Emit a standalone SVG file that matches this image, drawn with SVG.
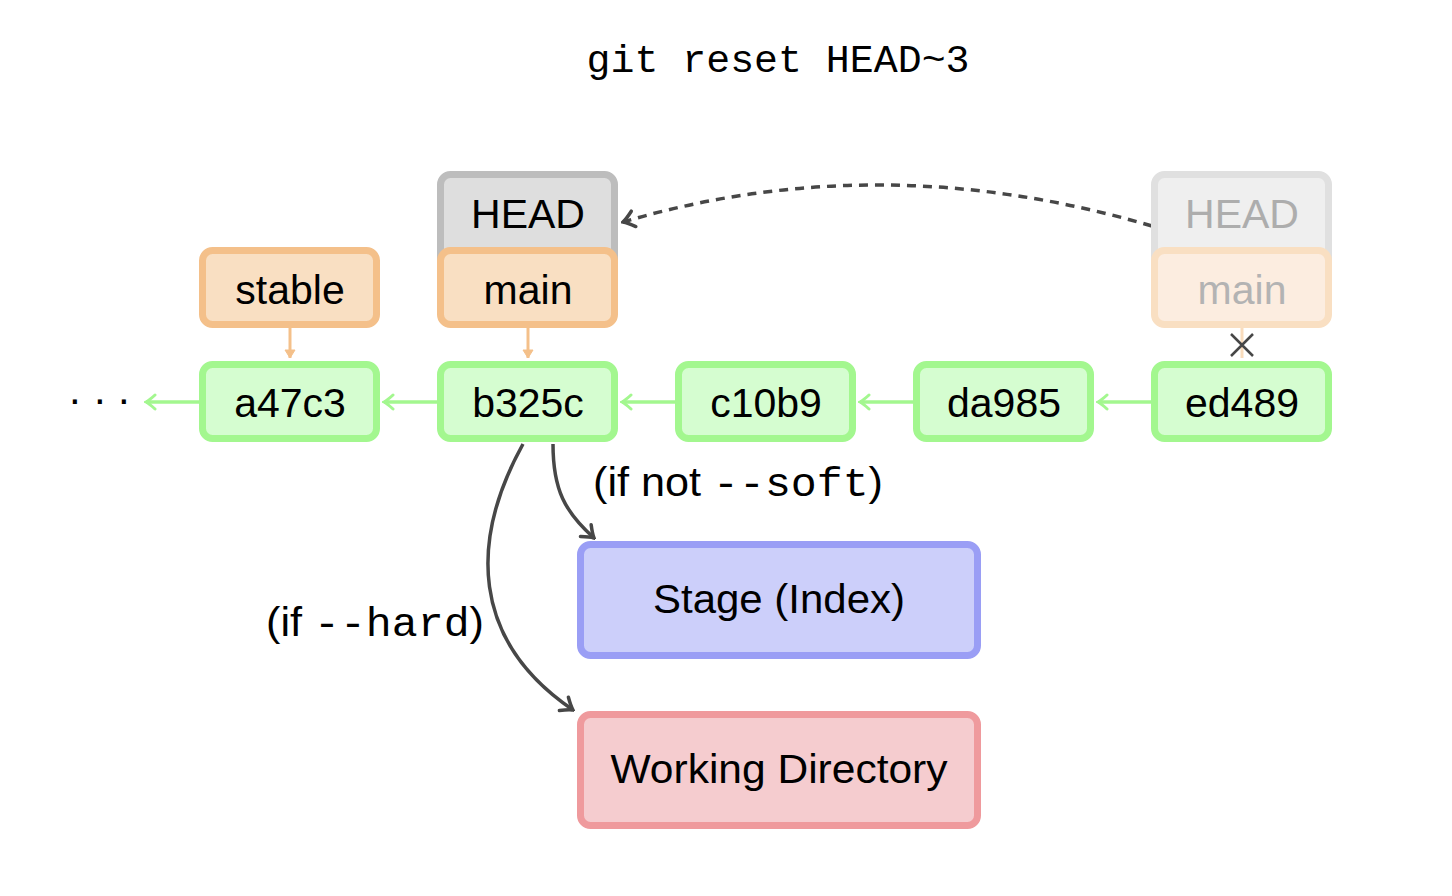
<svg xmlns="http://www.w3.org/2000/svg" width="1452" height="896" viewBox="0 0 1452 896">
<style>
.sans{font-family:"Liberation Sans",Arial,sans-serif;font-size:41px;fill:#000;text-anchor:middle}
.mono{font-family:"Liberation Mono","Courier New",monospace}
.commit{fill:#d5fdd0;stroke:#a3f78f;stroke-width:7}
.branch{fill:#f9dfc2;stroke:#f4c08a;stroke-width:7}
.head{fill:#dedede;stroke:#bdbdbd;stroke-width:7}
.ghead{fill:#efefef;stroke:#e0e0e0;stroke-width:7}
.gbranch{fill:#fcede0;stroke:#f9dfc2;stroke-width:7}
.garrow{stroke:#a3f78f;stroke-width:3.5;fill:none}
.oarrow{stroke:#f4c08a;stroke-width:3;fill:none}
.dark{stroke:#474747;stroke-width:3.5;fill:none}
</style>
<defs>
<marker id="ag" markerUnits="userSpaceOnUse" viewBox="-12 -10 14 20" markerWidth="14" markerHeight="20" refX="0" refY="0" orient="auto">
<path d="M-9,-7 Q-3,-1.5 0,0 Q-3,1.5 -9,7" fill="none" stroke="#a3f78f" stroke-width="3" stroke-linecap="round"/>
</marker>
<marker id="ao" markerUnits="userSpaceOnUse" viewBox="-10 -8 12 16" markerWidth="12" markerHeight="16" refX="0" refY="0" orient="auto">
<path d="M-8,-5 L0,0 L-8,5 Z" fill="#f4c08a" stroke="#f4c08a" stroke-width="1"/>
</marker>
<marker id="ad" markerUnits="userSpaceOnUse" viewBox="-14 -11 16 22" markerWidth="16" markerHeight="22" refX="0" refY="0" orient="auto">
<path d="M-11,-8 Q-4,-2 0,0 Q-4,2 -11,8" fill="none" stroke="#474747" stroke-width="3.5" stroke-linecap="round"/>
</marker>
</defs>

<text class="mono" x="778" y="72" font-size="38" text-anchor="middle" textLength="383" lengthAdjust="spacingAndGlyphs">git reset HEAD~3</text>

<g id="connectors">
<line class="garrow" x1="199" y1="402" x2="146" y2="402" marker-end="url(#ag)"/>
<line class="garrow" x1="437" y1="402" x2="384" y2="402" marker-end="url(#ag)"/>
<line class="garrow" x1="675" y1="402" x2="622" y2="402" marker-end="url(#ag)"/>
<line class="garrow" x1="913" y1="402" x2="860" y2="402" marker-end="url(#ag)"/>
<line class="garrow" x1="1151" y1="402" x2="1098" y2="402" marker-end="url(#ag)"/>
<line class="oarrow" x1="290" y1="328" x2="290" y2="358" marker-end="url(#ao)"/>
<line class="oarrow" x1="528" y1="328" x2="528" y2="358" marker-end="url(#ao)"/>
<line x1="1242" y1="328" x2="1242" y2="358" stroke="#f9dcbd" stroke-width="3"/>
<path d="M1231,334 L1253,356 M1253,334 L1231,356" stroke="#474747" stroke-width="2.5" fill="none"/>
<path class="dark" d="M1152,226 Q880,146 623,222" stroke-dasharray="9,7" marker-end="url(#ad)"/>
<path class="dark" d="M553,444 C553,490 565,512 594,538" marker-end="url(#ad)"/>
<path class="dark" d="M523,444 C470,540 470,640 573,710" marker-end="url(#ad)"/>
</g>

<text x="69 94 118" y="404" font-family="'Liberation Sans',sans-serif" font-size="42">...</text>

<g id="head">
<rect class="head" x="440.5" y="174.5" width="174" height="120" rx="10"/>
<text class="sans" x="528" y="228">HEAD</text>
</g>
<g id="head-old">
<rect class="ghead" x="1154.5" y="174.5" width="174" height="120" rx="10"/>
<text class="sans" x="1242" y="228" style="fill:#adadad">HEAD</text>
</g>
<g id="stable">
<rect class="branch" x="202.5" y="250.5" width="174" height="74" rx="10"/>
<text class="sans" x="290" y="304">stable</text>
</g>
<g id="main">
<rect class="branch" x="440.5" y="250.5" width="174" height="74" rx="10"/>
<text class="sans" x="528" y="304">main</text>
</g>
<g id="main-old">
<rect class="gbranch" x="1154.5" y="250.5" width="174" height="74" rx="10"/>
<text class="sans" x="1242" y="304" style="fill:#b3b3b3">main</text>
</g>
<g id="a47c3">
<rect class="commit" x="202.5" y="364.5" width="174" height="74" rx="10"/>
<text class="sans" x="290" y="417">a47c3</text>
</g>
<g id="b325c">
<rect class="commit" x="440.5" y="364.5" width="174" height="74" rx="10"/>
<text class="sans" x="528" y="417">b325c</text>
</g>
<g id="c10b9">
<rect class="commit" x="678.5" y="364.5" width="174" height="74" rx="10"/>
<text class="sans" x="766" y="417">c10b9</text>
</g>
<g id="da985">
<rect class="commit" x="916.5" y="364.5" width="174" height="74" rx="10"/>
<text class="sans" x="1004" y="417">da985</text>
</g>
<g id="ed489">
<rect class="commit" x="1154.5" y="364.5" width="174" height="74" rx="10"/>
<text class="sans" x="1242" y="417">ed489</text>
</g>
<g id="stage">
<rect x="580.5" y="544.5" width="397" height="111" rx="10" fill="#cccffa" stroke="#9a9ef5" stroke-width="7"/>
<text class="sans" x="779" y="613" textLength="252" lengthAdjust="spacingAndGlyphs">Stage (Index)</text>
</g>
<g id="workdir">
<rect x="580.5" y="714.5" width="397" height="111" rx="10" fill="#f5cccf" stroke="#ef9a9d" stroke-width="7"/>
<text class="sans" x="779" y="783" textLength="337" lengthAdjust="spacingAndGlyphs">Working Directory</text>
</g>

<text x="593" y="496" font-family="'Liberation Sans',sans-serif" font-size="41" textLength="290" lengthAdjust="spacingAndGlyphs">(if not <tspan class="mono">--soft</tspan>)</text>
<text x="266" y="636" font-family="'Liberation Sans',sans-serif" font-size="41" textLength="218" lengthAdjust="spacingAndGlyphs">(if <tspan class="mono">--hard</tspan>)</text>
</svg>
